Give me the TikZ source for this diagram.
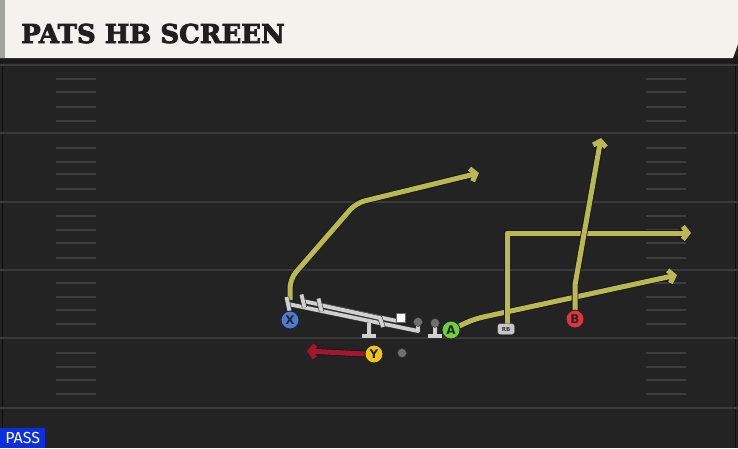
\documentclass[tikz,border=0pt]{standalone}
\usepackage{fontspec}
\setmainfont{DejaVu Sans}
\newfontfamily\titlefont{DejaVu Serif Bold}[FakeBold=3]
\newfontfamily\badgefont{Fira Sans}
\usetikzlibrary{arrows.meta}
\definecolor{fieldc}{HTML}{232323}
\definecolor{yardc}{HTML}{3A3A3A}
\definecolor{hashc}{HTML}{3E3E3E}
\definecolor{bannerc}{HTML}{F4F2EC}
\definecolor{stripc}{HTML}{A3A39E}
\definecolor{routey}{HTML}{BAB852}
\definecolor{router}{HTML}{A3162E}
\definecolor{blockc}{HTML}{D0D0D0}
\definecolor{pblue}{HTML}{4A7BD6}
\definecolor{pgreen}{HTML}{6CD23C}
\definecolor{pred}{HTML}{E2333F}
\definecolor{pyellow}{HTML}{F2C417}
\definecolor{passblue}{HTML}{0B2EE0}
\tikzset{
  player/.style={circle, draw=black!85, line width=0.9pt, minimum size=18pt, inner sep=0pt,
    font=\bfseries\fontsize{12}{12}\selectfont, text=black!85},
  rbbox/.style={rounded corners=2.5pt, fill=black!22!white, draw=black!80, inner sep=0pt,
    minimum width=17pt, minimum height=11pt, font=\bfseries\fontsize{5.5}{5.5}\selectfont, text=black!80},
  route/.style={draw=routey, line width=5pt, line join=round, line cap=butt,
    -{Straight Barb[length=5pt,width=13pt]},
    preaction={draw=black!90, line width=6.8pt}},
  redroute/.style={route, draw=router},
  block/.style={draw=blockc, line width=3.8pt, line join=round, line cap=butt,
    preaction={draw=black!80, line width=5pt}},
  yard/.style={draw=yardc, line width=2pt},
  hash/.style={draw=hashc, line width=1.6pt},
  grdot/.style={circle, fill=black!12!gray, draw=black!80, inner sep=0pt, minimum size=9pt},
}
\begin{document}
\begin{tikzpicture}[x=1pt,y=-1pt]
\useasboundingbox (0,0) rectangle (738,448);
% field
\fill[fieldc] (0,0) rectangle (738,448);
\draw[draw=black!60!fieldc, line width=1pt] (2,62) -- (2,448);
\draw[draw=black!60!fieldc, line width=1pt] (735,62) -- (735,448);
% yard lines
\foreach \y in {65,133,202,270,338,408} \draw[yard] (0,\y) -- (738,\y);
% hash marks
\foreach \y in {79,92,107,121,148,162,174,189,216,230,243,258,283,297,310,324,353,367,380,394} {
  \draw[hash] (56,\y) -- (96,\y);
  \draw[hash] (646,\y) -- (686,\y);
}
% banner
\fill[black!90] (0,56) rectangle (738,63);
\fill[bannerc] (0,0) -- (738,0) -- (738,44) -- (733,58) -- (0,58) -- cycle;
\fill[stripc] (0,0) rectangle (5,58);
\node[anchor=base west, inner sep=0pt, font=\titlefont\fontsize{26}{26}\selectfont, text=black!88] (title) at (21,43) {PATS HB SCREEN};

% routes
\coordinate (xe) at (479,173);
\coordinate (ae) at (677,275);
\coordinate (rbe) at (691,233);
\coordinate (be) at (601,138);
\coordinate (ye) at (307,351);
\coordinate (xb) at (290,300);
\draw[route, rounded corners=9pt] (xb) -- (290,279) -- (356,203) -- (xe);
\draw[route, rounded corners=9pt] (451,330) -- (474,319) -- (ae);
\draw[route] (507,328) -- (507,233) -- (rbe);
\draw[route] (575,319) -- (575,285) -- (be);

% blocking
\draw[block] (418,322) -- (418,331) -- (288,304);
\draw[block] (286.5,297) -- (289.5,311);
\draw[block] (397,321) -- (303,301);
\draw[block] (301.5,294.5) -- (304.5,307.5);
\draw[block] (383,327) -- (380,318) -- (320,305);
\draw[block] (318.5,298.5) -- (321.5,311.5);
% stance markers
\draw[block] (369,323) -- (369,336);
\draw[block] (362,336) -- (376,336);
\draw[block] (435,323) -- (435,336);
\draw[block] (428,336) -- (442,336);
\node[grdot] (d1) at (418,322) {};
\node[grdot] (d2) at (435,323) {};
\node[fill=white, draw=black!60, inner sep=0pt, minimum size=9pt] (ctr) at (401,318) {};

% players
\node[player, fill=pblue] (X) at (290,320) {X};
\node[player, fill=pgreen] (A) at (451,330) {A};
\node[player, fill=pred] (B) at (575,319) {B};
\node[player, fill=pyellow] (Y) at (374,354) {Y};
\node[rbbox] (RB) at (506,329) {RB};
\node[grdot] (dot) at (402,353) {};
\draw[redroute] (Y.west) -- (ye);

% pass badge
\node[fill=passblue, anchor=south west, inner sep=0pt, minimum width=45pt, minimum height=20pt,
  font=\badgefont\fontsize{16}{16}\selectfont, text=white] (pass) at (0,448) {PASS};
\end{tikzpicture}
\end{document}
